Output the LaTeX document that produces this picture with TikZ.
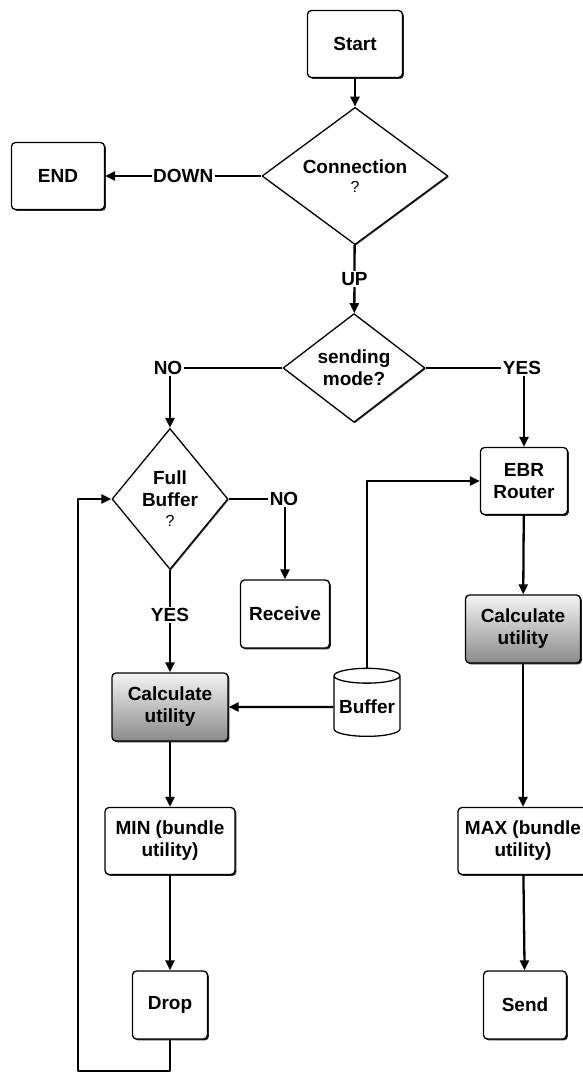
\documentclass[tikz,border=0pt]{standalone}
\usepackage{fontspec}
\setmainfont{Liberation Sans}
\usetikzlibrary{shapes.geometric,arrows.meta,shadows}
\definecolor{calctop}{HTML}{F4F4F4}
\definecolor{calcbot}{HTML}{8A8A8A}
\definecolor{ink}{HTML}{000000}

\begin{document}
\begin{tikzpicture}[x=1pt,y=-1pt,line join=round,
  font=\fontsize{19}{22}\selectfont\bfseries,
  box/.style={draw=ink,line width=1.3pt,rounded corners=4pt,fill=white,align=center,inner sep=1pt,
    drop shadow={shadow xshift=1.4pt,shadow yshift=-1.4pt,opacity=0.85,fill=ink}},
  calcbox/.style={box,top color=calctop,bottom color=calcbot},
  decision/.style={diamond,draw=ink,line width=1.3pt,fill=white,align=center,inner sep=0pt,
    drop shadow={shadow xshift=1pt,shadow yshift=-1pt,opacity=0.7,fill=ink}},
  store/.style={cylinder,shape border rotate=90,draw=ink,line width=1.3pt,fill=white,aspect=0.26,inner sep=0.5pt},
  lbl/.style={fill=white,inner sep=1.5pt},
  qmark/.style={font=\fontsize{16}{18}\selectfont\mdseries},
  link/.style={draw=ink,line width=2.3pt},
  flow/.style={link,-{Triangle[length=10pt,width=9pt]}}]
  \useasboundingbox (0,0) rectangle (582,1073);
  \fill[white] (0,0) rectangle (582,1073);

  % ---- top: start and connection check ----
  \node[box,minimum width=95pt,minimum height=67pt] (start) at (355,44) {Start};
  \node[decision,minimum width=186pt,minimum height=87pt] (conn) at (355,176) {Connection\\[-3pt]{\fontsize{16}{18}\selectfont\mdseries ?}};
  \node[box,minimum width=93pt,minimum height=67pt] (endn) at (58,176) {END};
  \draw[flow] (start) -- (conn);
  \draw[flow] (conn) -- node[lbl] {DOWN} (endn);

  % ---- sending mode ----
  \node[decision,minimum width=142pt,minimum height=100pt] (mode) at (354,368) {sending\\mode?};
  \draw[flow] (conn) -- node[lbl,pos=0.5] {UP} (mode);
  \node[lbl] (nomode) at (168,368) {NO};
  \node[lbl] (yesmode) at (522,368) {YES};
  \draw[link] (mode.west) -- (nomode.east);
  \draw[link] (mode.east) -- (yesmode.west);

  % ---- receiving branch (left) ----
  \node[decision,minimum width=116pt,minimum height=141pt] (full) at (170,499) {Full\\Buffer\\[-2pt]{\fontsize{16}{18}\selectfont\mdseries ?}};
  \draw[flow] (nomode.south -| full.north) -- (full.north);
  \node[lbl] (nofull) at (284,499) {NO};
  \node[box,minimum width=89pt,minimum height=68pt] (recv) at (285,614) {Receive};
  \draw[link] (full.east) -- (nofull.west);
  \draw[flow] (nofull.south -| recv.north) -- (recv.north);
  \node[lbl] (yesfull) at (170,615) {YES};
  \draw[link] (full.south) -- (yesfull.north);
  \node[calcbox,minimum width=116pt,minimum height=68pt] (calcl) at (170,707) {Calculate\\utility};
  \draw[flow] (yesfull.south) -- (calcl.north);
  \node[box,minimum width=130pt,minimum height=67pt] (minb) at (170,841) {MIN (bundle\\utility)};
  \node[box,minimum width=75pt,minimum height=68pt] (drop) at (170,1005) {Drop};
  \draw[flow] (calcl) -- (minb);
  \draw[flow] (minb) -- (drop);
  % loop back to the buffer check
  \coordinate (loopc) at (78,1071);
  \draw[flow] (drop.south) |- (loopc) |- (full.west);

  % ---- buffer store ----
  \node[store,minimum width=66pt,minimum height=68pt] (buf) at (367,707) {Buffer};
  \draw[flow] (buf.west) -- (calcl.east);

  % ---- sending branch (right) ----
  \node[box,minimum width=87pt,minimum height=67pt] (ebr) at (524,481) {EBR\\Router};
  \draw[flow] (yesmode.south -| ebr.north) -- (ebr.north);
  \draw[flow] (buf.north) |- (ebr.west);
  \node[calcbox,minimum width=115pt,minimum height=68pt] (calcr) at (523,629) {Calculate\\utility};
  \node[box,minimum width=130pt,minimum height=67pt] (maxb) at (523,841) {MAX (bundle\\utility)};
  \node[box,minimum width=83pt,minimum height=68pt] (send) at (525,1005) {Send};
  \draw[flow] (ebr) -- (calcr);
  \draw[flow] (calcr) -- (maxb);
  \draw[flow] (maxb) -- (send);
\end{tikzpicture}
\end{document}
